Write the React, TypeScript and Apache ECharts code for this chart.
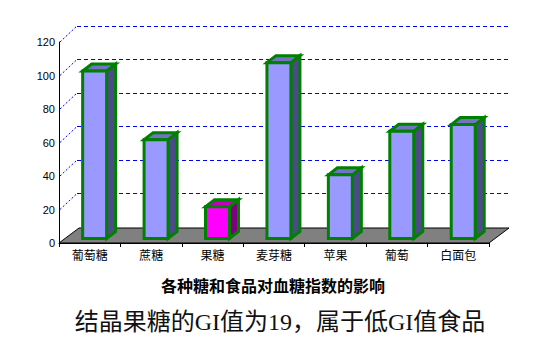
import React, { useEffect, useRef } from "react";
import * as echarts from "echarts";

const categories = ["葡萄糖", "蔗糖", "果糖", "麦芽糖", "苹果", "葡萄", "白面包"];
const giValues = [100, 59, 19, 105, 38, 64, 68];
const yTicks = [0, 20, 40, 60, 80, 100, 120];
const highlighted = "果糖";
const chartTitle = "各种糖和食品对血糖指数的影响";
const caption = "结晶果糖的GI值为19，属于低GI值食品";

const WALL_DX = 18;
const WALL_DY = 16;
const FLOOR_DX = 20;
const FLOOR_DY = 15;

export default function App() {
  const ref = useRef<HTMLDivElement>(null);
  useEffect(() => {
    if (!ref.current) return;
    const chart = echarts.init(ref.current, null, { renderer: "svg" });
    const normalStyle = { front: "#9999FF", top: "#7373C4", side: "#4B4B88" };
    const hiStyle = { front: "#FF00FF", top: "#C000C0", side: "#800080" };
    const option: any = {
      animation: false,
      backgroundColor: "#ffffff",
      grid: [
        { left: 59, right: 51, top: 42, bottom: 110 },
        { left: 59 + WALL_DX, right: 51 - WALL_DX - 2, top: 42 - WALL_DY, bottom: 110 + WALL_DY },
      ],
      xAxis: [
        {
          type: "category",
          gridIndex: 0,
          data: categories,
          z: 3,
          axisLine: { show: true, lineStyle: { color: "#000", width: 1 } },
          axisTick: { show: true, length: 4, lineStyle: { color: "#000" } },
          axisLabel: { color: "#000", fontSize: 12, margin: 5, fontFamily: "Noto Sans CJK SC" },
          splitLine: { show: false },
        },
        {
          type: "category",
          gridIndex: 1,
          data: categories,
          show: false,
        },
      ],
      yAxis: [
        {
          type: "value",
          gridIndex: 0,
          min: 0,
          max: 120,
          interval: 20,
          z: 3,
          axisLine: { show: true, lineStyle: { color: "#000", width: 1 } },
          axisTick: { show: false },
          axisLabel: { color: "#000", fontSize: 11, margin: 4, fontFamily: "Liberation Sans" },
          splitLine: { show: false },
        },
        {
          type: "value",
          gridIndex: 1,
          min: 0,
          max: 120,
          interval: 20,
          axisLine: { show: false },
          axisTick: { show: false },
          axisLabel: { show: false },
          splitLine: {
            show: true,
            showMinLine: false,
            lineStyle: { color: "#0000FF", width: 1, type: [4, 3] },
          },
        },
      ],
      series: [
        {
          type: "custom",
          name: "floor",
          xAxisIndex: 0,
          yAxisIndex: 0,
          z: 1,
          silent: true,
          data: yTicks.map((v) => [0, v]),
          renderItem: (params: any, api: any) => {
            const cs = params.coordSys;
            const v = api.value(1);
            const p = api.coord([0, v]);
            const x = cs.x;
            if (v === 0) {
              const yb = p[1];
              return {
                type: "polygon",
                shape: {
                  points: [
                    [x, yb],
                    [x + cs.width, yb],
                    [x + cs.width + FLOOR_DX, yb - FLOOR_DY],
                    [x + FLOOR_DX, yb - FLOOR_DY],
                  ],
                },
                style: { fill: "#808080", stroke: "#000", lineWidth: 1 },
              };
            }
            return {
              type: "line",
              shape: { x1: x + 1, y1: p[1], x2: x + WALL_DX, y2: p[1] - WALL_DY },
              style: { stroke: "#0000FF", lineWidth: 1, lineDash: [2, 2] },
            };
          },
        },
        {
          type: "custom",
          name: "GI",
          xAxisIndex: 0,
          yAxisIndex: 0,
          z: 2,
          data: giValues.map((v, i) => [i, v]),
          renderItem: (params: any, api: any) => {
            const i = api.value(0);
            const v = api.value(1);
            const top = api.coord([i, v]);
            const base = api.coord([i, 0]);
            const band = api.size([1, 0])[0];
            const w = band * 0.39;
            const dx = band * 0.147;
            const dy = 7;
            const x0 = top[0] - band * 0.115;
            const x1 = x0 + w;
            const yT = top[1] - 4.5;
            const yB = base[1] - 4.5;
            const st = categories[i] === highlighted ? hiStyle : normalStyle;
            const stroke = { stroke: "#008000", lineWidth: 3, lineJoin: "miter" };
            return {
              type: "group",
              children: [
                {
                  type: "polygon",
                  shape: { points: [[x1, yT], [x1 + dx, yT - dy], [x1 + dx, yB - dy], [x1, yB]] },
                  style: { fill: st.side, ...stroke },
                },
                {
                  type: "polygon",
                  shape: { points: [[x0, yT], [x0 + dx, yT - dy], [x1 + dx, yT - dy], [x1, yT]] },
                  style: { fill: st.top, ...stroke },
                },
                {
                  type: "rect",
                  shape: { x: x0, y: yT, width: w, height: yB - yT },
                  style: { fill: st.front, ...stroke },
                },
              ],
            };
          },
        },
      ],
      graphic: [
        {
          type: "text",
          x: 273,
          y: 285,
          style: {
            text: chartTitle,
            fill: "#000",
            font: "bold 16px 'Noto Sans CJK SC'",
            textAlign: "center",
            textVerticalAlign: "middle",
            align: "center",
            verticalAlign: "middle",
          },
        },
        {
          type: "text",
          x: 280,
          y: 322,
          style: {
            text: caption,
            fill: "#111",
            font: "24px 'Liberation Serif', 'Noto Sans CJK SC'",
            textAlign: "center",
            textVerticalAlign: "middle",
            align: "center",
            verticalAlign: "middle",
          },
        },
      ],
    };
    chart.setOption(option);
    return () => chart.dispose();
  }, []);
  return (
    <div
      ref={ref}
      style={{ position: "fixed", left: 0, top: 0, width: 540, height: 353 }}
    />
  );
}
